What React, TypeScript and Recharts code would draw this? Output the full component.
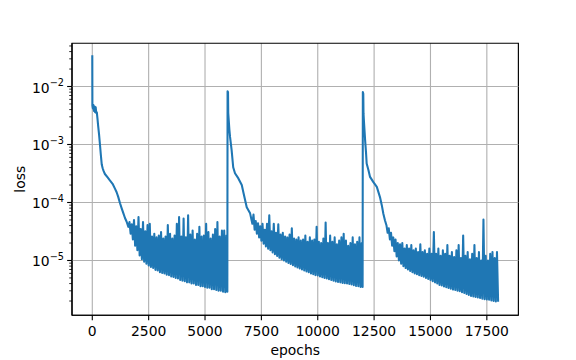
import React from 'react';
import { LineChart, Line, XAxis, YAxis, CartesianGrid, ReferenceLine, ReferenceArea, Label } from 'recharts';

const FONT = "'DejaVu Sans', sans-serif";

const X_DOMAIN: [number, number] = [-900, 18900];
const Y_DOMAIN: [number, number] = [1.135e-6, 0.0558];
const X_TICKS = [0, 2500, 5000, 7500, 10000, 12500, 15000, 17500];
const Y_MAJOR_TICKS = [1e-5, 1e-4, 1e-3, 1e-2];
const Y_MINOR_TICKS = [
  2e-6, 3e-6, 4e-6, 5e-6, 6e-6, 7e-6, 8e-6, 9e-6,
  2e-5, 3e-5, 4e-5, 5e-5, 6e-5, 7e-5, 8e-5, 9e-5,
  2e-4, 3e-4, 4e-4, 5e-4, 6e-4, 7e-4, 8e-4, 9e-4,
  2e-3, 3e-3, 4e-3, 5e-3, 6e-3, 7e-3, 8e-3, 9e-3,
  2e-2, 3e-2, 4e-2, 5e-2,
];

// sampling step of the noisy band (epochs)
const BAND_STEP = 100;

// phase 1: initial spike + smooth decay
const head1Epochs = [0, 5, 25, 50, 75, 100, 125, 150, 175, 200, 230, 260, 300, 340, 380, 420, 460, 500, 560, 680, 780, 900, 1000, 1080, 1150, 1230, 1300, 1380, 1450, 1520];
const head1Loss = [0.0347, 0.0047, 0.0042, 0.0048, 0.0038, 0.0045, 0.0036, 0.0044, 0.0035, 0.0036, 0.0028, 0.0021, 0.0015, 0.001, 0.00066, 0.00045, 0.00039, 0.00035, 0.00031, 0.00027, 0.00024, 0.00021, 0.000175, 0.00015, 0.000125, 0.000097, 0.00008, 0.000065, 0.000054, 0.000047];
// phase 1 noisy band: 1600 .. 5900
const band1Start = 1600;
const band1Low = [
  3.8e-5, 2.9e-5, 2.3e-5, 1.8e-5, 1.5e-5, 1.22e-5, 1.05e-5, 9.5e-6, 8.8e-6, 8.2e-6,
  7.7e-6, 7.4e-6, 6.9e-6, 6.7e-6, 6.3e-6, 6.1e-6, 6.0e-6, 5.7e-6, 5.6e-6, 5.3e-6,
  5.2e-6, 5.0e-6, 4.9e-6, 4.6e-6, 4.5e-6, 4.4e-6, 4.2e-6, 4.2e-6, 4.0e-6, 4.0e-6,
  3.8e-6, 3.8e-6, 3.6e-6, 3.6e-6, 3.5e-6, 3.4e-6, 3.4e-6, 3.2e-6, 3.2e-6, 3.1e-6,
  3.0e-6, 3.0e-6, 2.9e-6, 2.85e-6,
];
const band1High = [
  4.6e-5, 4.2e-5, 5.0e-5, 3.9e-5, 5.6e-5, 3.5e-5, 4.6e-5, 3.2e-5, 4.1e-5, 4.3e-5,
  2.6e-5, 2.9e-5, 2.5e-5, 2.7e-5, 3.1e-5, 2.4e-5, 2.6e-5, 4.1e-5, 2.9e-5, 2.4e-5,
  2.7e-5, 4.3e-5, 5.6e-5, 2.6e-5, 5.3e-5, 2.5e-5, 6.0e-5, 2.8e-5, 3.3e-5, 2.3e-5,
  2.9e-5, 3.8e-5, 2.6e-5, 2.7e-5, 4.3e-5, 3.1e-5, 2.4e-5, 2.8e-5, 3.5e-5, 4.6e-5,
  2.6e-5, 3.3e-5, 3.3e-5, 2.7e-5,
];

// phase 2: restart spike at 6000 + decay
const head2Epochs = [5990, 6000, 6020, 6030, 6080, 6110, 6180, 6250, 6330, 6480, 6630, 6700, 6850, 7000];
const head2Loss = [2.9e-6, 8.3e-3, 8.0e-3, 3.5e-3, 1.8e-3, 1.35e-3, 8.0e-4, 4.05e-4, 3.2e-4, 2.6e-4, 2.0e-4, 1.5e-4, 8.3e-5, 6.5e-5];
// phase 2 noisy band: 7100 .. 11900
const band2Start = 7100;
const band2Low = [
  4.3e-5, 3.4e-5, 2.9e-5, 2.5e-5, 2.2e-5, 1.95e-5, 1.75e-5, 1.6e-5, 1.5e-5, 1.38e-5,
  1.28e-5, 1.2e-5, 1.12e-5, 1.05e-5, 1.0e-5, 9.5e-6, 9.1e-6, 8.7e-6, 8.3e-6, 7.9e-6,
  7.6e-6, 7.3e-6, 7.0e-6, 6.7e-6, 6.5e-6, 6.3e-6, 6.0e-6, 5.8e-6, 5.6e-6, 5.5e-6,
  5.3e-6, 5.15e-6, 5.0e-6, 4.9e-6, 4.75e-6, 4.6e-6, 4.5e-6, 4.35e-6, 4.25e-6, 4.2e-6,
  4.1e-6, 4.05e-6, 4.0e-6, 3.95e-6, 3.85e-6, 3.75e-6, 3.65e-6, 3.6e-6, 3.5e-6,
];
const band2High = [
  6.2e-5, 4.8e-5, 4.4e-5, 3.9e-5, 4.3e-5, 3.4e-5, 4.3e-5, 6.0e-5, 3.2e-5, 4.3e-5,
  3.0e-5, 4.2e-5, 2.8e-5, 3.0e-5, 2.6e-5, 2.5e-5, 2.8e-5, 3.6e-5, 2.4e-5, 2.3e-5,
  2.5e-5, 2.2e-5, 2.3e-5, 2.7e-5, 2.1e-5, 2.5e-5, 2.2e-5, 2.3e-5, 3.8e-5, 2.1e-5,
  2.0e-5, 2.4e-5, 4.5e-5, 2.0e-5, 2.7e-5, 2.1e-5, 2.5e-5, 1.9e-5, 2.2e-5, 2.5e-5,
  2.9e-5, 2.2e-5, 1.8e-5, 2.0e-5, 2.5e-5, 1.9e-5, 2.1e-5, 2.5e-5, 2.0e-5,
];

// phase 3: restart spike at 12000 + decay
const head3Epochs = [11990, 12000, 12020, 12030, 12055, 12100, 12140, 12170, 12250, 12320, 12460, 12620, 12760, 12840, 12910, 12980, 13050];
const head3Loss = [3.5e-6, 8.0e-3, 7.5e-3, 3.4e-3, 2.3e-3, 1.2e-3, 7.4e-4, 4.7e-4, 3.6e-4, 2.76e-4, 2.27e-4, 1.86e-4, 1.24e-4, 9.0e-5, 6.4e-5, 4.95e-5, 4.0e-5];
// phase 3 noisy band: 13100 .. 17900
const band3Start = 13100;
const band3Low = [
  3.0e-5, 2.3e-5, 1.8e-5, 1.45e-5, 1.17e-5, 1.0e-5, 8.8e-6, 8.0e-6, 7.4e-6, 7.0e-6,
  6.6e-6, 6.3e-6, 6.0e-6, 5.8e-6, 5.6e-6, 5.4e-6, 5.25e-6, 5.0e-6, 4.8e-6, 4.6e-6,
  4.4e-6, 4.2e-6, 4.0e-6, 3.8e-6, 3.7e-6, 3.55e-6, 3.45e-6, 3.35e-6, 3.25e-6, 3.15e-6,
  3.1e-6, 3.0e-6, 2.95e-6, 2.85e-6, 2.75e-6, 2.65e-6, 2.55e-6, 2.45e-6, 2.4e-6, 2.35e-6,
  2.3e-6, 2.25e-6, 2.2e-6, 2.15e-6, 2.12e-6, 2.1e-6, 2.05e-6, 2.0e-6, 1.97e-6,
];
const band3High = [
  3.6e-5, 3.0e-5, 2.5e-5, 2.3e-5, 2.0e-5, 1.9e-5, 2.0e-5, 1.6e-5, 1.85e-5, 1.6e-5,
  1.85e-5, 1.5e-5, 1.6e-5, 1.4e-5, 1.9e-5, 1.4e-5, 1.5e-5, 1.3e-5, 1.6e-5, 1.3e-5,
  3.1e-5, 1.3e-5, 1.6e-5, 1.2e-5, 1.5e-5, 1.3e-5, 1.85e-5, 1.2e-5, 1.4e-5, 1.15e-5,
  1.5e-5, 1.85e-5, 1.1e-5, 2.7e-5, 1.2e-5, 1.4e-5, 1.05e-5, 1.3e-5, 1.85e-5, 1.1e-5,
  1.4e-5, 1.0e-5, 5.1e-5, 1.2e-5, 1.0e-5, 1.3e-5, 1.4e-5, 1.1e-5, 1.4e-5,
];
const tailEpochs = [18000];
const tailLoss = [1.95e-6];

type Pt = { epoch: number; loss: number };
const DATA: Pt[] = [];
const addHead = (ep: number[], ls: number[]) => ep.forEach((e, i) => DATA.push({ epoch: e, loss: ls[i] }));
const addBand = (start: number, low: number[], high: number[]) =>
  low.forEach((l, i) => {
    const e = start + i * BAND_STEP;
    DATA.push({ epoch: e, loss: l });
    DATA.push({ epoch: e + BAND_STEP / 2, loss: high[i] });
  });
addHead(head1Epochs, head1Loss);
addBand(band1Start, band1Low, band1High);
addHead(head2Epochs, head2Loss);
addBand(band2Start, band2Low, band2High);
addHead(head3Epochs, head3Loss);
addBand(band3Start, band3Low, band3High);
addHead(tailEpochs, tailLoss);

const Y_TICKS = [...Y_MAJOR_TICKS, ...Y_MINOR_TICKS];

function YTick(props: any) {
  const { x, y, payload } = props;
  const v = payload.value as number;
  const lg = Math.log10(v);
  const major = Math.abs(lg - Math.round(lg)) < 1e-6;
  const len = major ? 4.86 : 2.78;
  return (
    <g>
      <line x1={x - len} x2={x} y1={y} y2={y} stroke="#000" strokeWidth={major ? 1.11 : 0.83} />
      {major && (
        <text x={x - len - 3.2} y={y + 6} textAnchor="end" fontFamily={FONT} fontSize={13.9} fill="#000">
          <tspan>10</tspan>
          <tspan dy={-6.5} fontSize={9.7}>{'\u2212' + Math.abs(Math.round(lg))}</tspan>
        </text>
      )}
    </g>
  );
}

export default function App() {
  return (
    <div style={{ position: 'absolute', left: 0, top: 0, width: 576, height: 360, background: '#fff' }}>
      <LineChart width={576} height={360} data={DATA} margin={{ top: 43.2, right: 57.6, bottom: 4.7, left: 10 }}>
        <CartesianGrid horizontal={false} stroke="#b0b0b0" strokeWidth={1.11} />
        {Y_MAJOR_TICKS.map((v) => (
          <ReferenceLine key={v} y={v} stroke="#b0b0b0" strokeWidth={1.11} />
        ))}
        <XAxis
          dataKey="epoch"
          type="number"
          domain={X_DOMAIN}
          allowDataOverflow
          ticks={X_TICKS}
          interval={0}
          height={40}
          tickSize={4.86}
          tickMargin={6}
          axisLine={{ stroke: '#000', strokeWidth: 1.11 }}
          tickLine={{ stroke: '#000', strokeWidth: 1.11 }}
          tick={{ fill: '#000', fontSize: 13.9, fontFamily: FONT }}
        >
          <Label
            content={(p: any) => {
              const vb = p.viewBox || { x: 72, y: 315.3, width: 446.4, height: 40 };
              return (
                <text x={vb.x + vb.width / 2} y={vb.y + 39.7} textAnchor="middle" fontFamily={FONT} fontSize={13.9} fill="#000">
                  epochs
                </text>
              );
            }}
          />
        </XAxis>
        <YAxis
          type="number"
          scale="log"
          domain={Y_DOMAIN}
          allowDataOverflow
          ticks={Y_TICKS}
          interval={0}
          width={62}
          tickSize={0}
          tickMargin={0}
          tickLine={false}
          axisLine={{ stroke: '#000', strokeWidth: 1.11 }}
          tick={YTick}
        >
          <Label
            content={(p: any) => {
              const vb = p.viewBox || { x: 10, y: 43.2, width: 62, height: 272.1 };
              const cx = vb.x + 15;
              const cy = vb.y + vb.height / 2;
              return (
                <text x={cx} y={cy} transform={`rotate(-90, ${cx}, ${cy})`} textAnchor="middle" fontFamily={FONT} fontSize={13.9} fill="#000">
                  loss
                </text>
              );
            }}
          />
        </YAxis>
        <Line
          type="linear"
          dataKey="loss"
          stroke="#1f77b4"
          strokeWidth={2.08}
          strokeLinejoin="round"
          dot={false}
          activeDot={false}
          isAnimationActive={false}
        />
        <ReferenceArea
          x1={X_DOMAIN[0]}
          x2={X_DOMAIN[1]}
          y1={Y_DOMAIN[0]}
          y2={Y_DOMAIN[1]}
          fill="none"
          fillOpacity={0}
          stroke="#000"
          strokeWidth={1.11}
          ifOverflow="visible"
        />
      </LineChart>
    </div>
  );
}
